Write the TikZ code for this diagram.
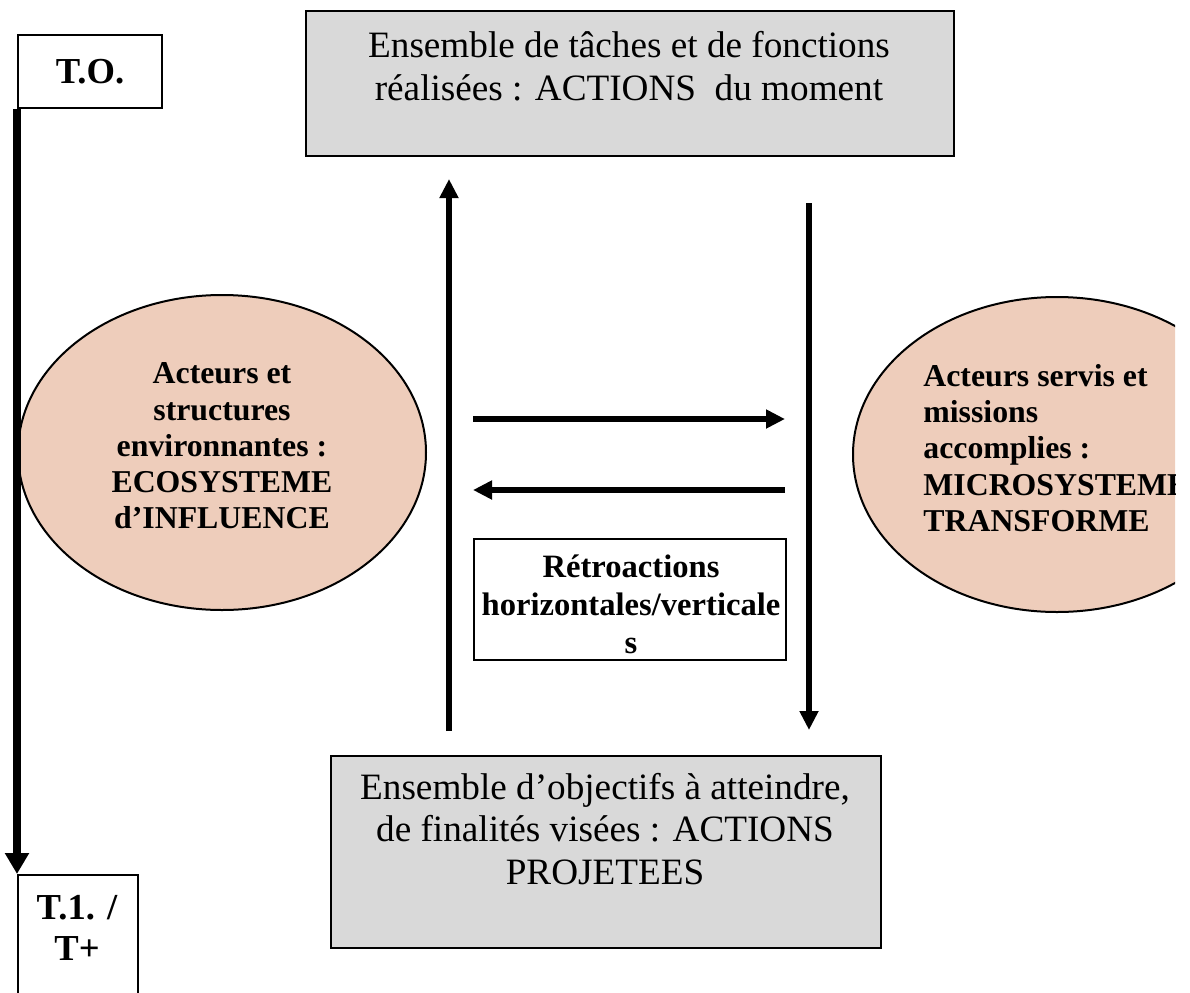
\documentclass[tikz,border=0pt]{standalone}
\usepackage{fontspec}
\setmainfont{Liberation Serif}
\usetikzlibrary{shapes.geometric,arrows.meta}
\definecolor{peach}{RGB}{238,205,187}
\definecolor{boxgray}{RGB}{217,217,217}
\begin{document}
\begin{tikzpicture}[x=0.5pt,y=-0.5pt,
  graybox/.style={draw, line width=1pt, fill=boxgray, rectangle, inner sep=0pt, anchor=north west},
  plainbox/.style={draw, line width=1pt, fill=white, rectangle, inner sep=0pt, anchor=north west},
  bubble/.style={draw, line width=1pt, fill=peach, ellipse, inner sep=0pt, minimum width=204pt, minimum height=157.5pt},
  regtext/.style={align=center, inner sep=0pt, font=\fontsize{18.6pt}{21.25pt}\selectfont},
  boldtext/.style={inner sep=0pt, font=\fontsize{15.9pt}{18.1pt}\selectfont\bfseries},
  retrotext/.style={align=center, inner sep=0pt, font=\fontsize{16.3pt}{19pt}\selectfont\bfseries},
  timetext/.style={align=center, inner sep=0pt, font=\fontsize{18.3pt}{20.5pt}\selectfont\bfseries},
  flow/.style={line width=3pt, -{Triangle[length=9.5pt,width=9pt]}},
  timeflow/.style={line width=4pt, -{Triangle[length=10.5pt,width=11.5pt]}}
]
\useasboundingbox (0,0) rectangle (1190,992);
\begin{scope}
\clip (0,0) rectangle (1175,992);

% top and bottom boxes
\node[graybox, minimum width=324pt, minimum height=72.5pt] (top) at (305,10) {};
\node[regtext] (toptext) at (629,66) {Ensemble de tâches et de fonctions\\réalisées : ACTIONS\ \ du moment};

\node[graybox, minimum width=275pt, minimum height=96pt] (bottom) at (330,755) {};
\node[regtext] (bottomtext) at (605,829) {Ensemble d’objectifs à atteindre,\\de finalités visées : ACTIONS\\PROJETEES};

% ellipses
\node[bubble] (eco) at (222,452.5) {};
\node[boldtext, align=center] (ecotext) at (222,446) {Acteurs et\\structures\\environnantes :\\ECOSYSTEME\\d’INFLUENCE};

\node[bubble] (micro) at (1057,454.5) {};
\node[boldtext, align=left, anchor=west] (microtext) at (923,448) {Acteurs servis et\\missions\\accomplies :\\MICROSYSTEME\\TRANSFORME};

% feedback box
\node[plainbox, minimum width=156pt, minimum height=60.5pt] (retro) at (473,538) {};
\node[retrotext] (retrotxt) at (631,604.5) {Rétroactions\\horizontales/verticale\\s};

% time boxes
\node[plainbox, timetext, minimum width=72pt, minimum height=36.5pt] (t0) at (17,34) {T.O.};
\node[plainbox, minimum width=60pt, minimum height=70pt] (t1) at (17,874) {};
\node[timetext] (t1text) at (77,928) {T.1. /\\T+};

% arrows
\coordinate (upS) at (449,731);
\coordinate (upE) at (449,179);
\coordinate (dnS) at (809,203);
\coordinate (dnE) at (809,730);
\coordinate (rtS) at (473,419);
\coordinate (rtE) at (785,419);
\coordinate (lfS) at (785,490);
\coordinate (lfE) at (473,490);

\draw[flow] (upS) -- (upE);
\draw[flow] (dnS) -- (dnE);
\draw[flow] (rtS) -- (rtE);
\draw[flow] (lfS) -- (lfE);
\draw[timeflow] (t0.south west) -- (t1.north west);
\end{scope}
\end{tikzpicture}
\end{document}
